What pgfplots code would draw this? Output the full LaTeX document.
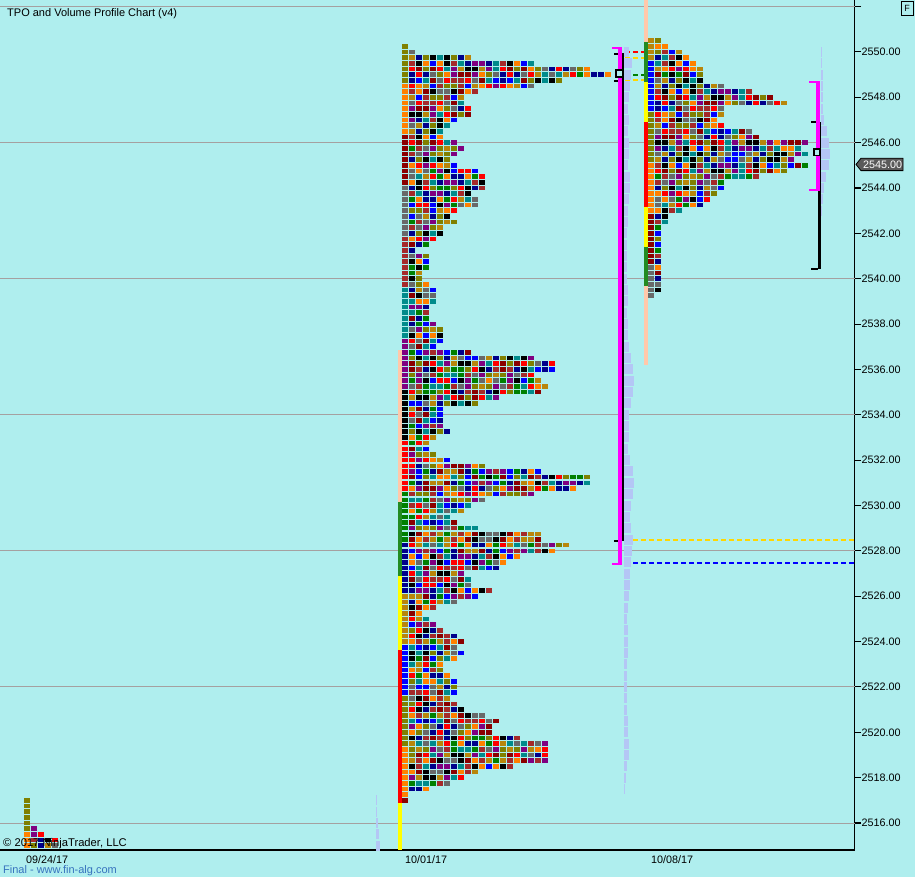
\documentclass[border=0pt]{standalone}
\usepackage{pgfplots}
\pgfplotsset{compat=1.18}
\usepackage{pgfplotstable}
\usepackage{fontspec}
\setmainfont{Liberation Sans}

\definecolor{bgcyan}{RGB}{175,238,238}
\definecolor{gridgrey}{RGB}{165,160,160}
\definecolor{peach}{RGB}{255,200,170}
\definecolor{ibgreen}{RGB}{34,139,34}
\definecolor{volblue}{RGB}{180,198,245}
\definecolor{taggrey}{RGB}{90,90,90}
\definecolor{gold}{RGB}{255,215,0}
\definecolor{dkgreen}{RGB}{0,128,0}
\definecolor{linkblue}{RGB}{55,115,190}
\definecolor{vamag}{RGB}{255,0,255}
\definecolor{ibyellow}{RGB}{255,255,0}
\definecolor{ibred}{RGB}{255,0,0}
\definecolor{pblue}{RGB}{0,0,255}
% tpo period colours
\definecolor{tpo0}{RGB}{0,0,0}
\definecolor{tpo1}{RGB}{0,0,255}
\definecolor{tpo2}{RGB}{165,42,42}
\definecolor{tpo3}{RGB}{0,128,0}
\definecolor{tpo4}{RGB}{255,128,0}
\definecolor{tpo5}{RGB}{128,0,128}
\definecolor{tpo6}{RGB}{184,134,11}
\definecolor{tpo7}{RGB}{105,105,105}
\definecolor{tpo8}{RGB}{255,0,0}
\definecolor{tpo9}{RGB}{128,128,0}
\definecolor{tpo10}{RGB}{0,139,139}
\definecolor{tpo11}{RGB}{0,0,139}
\definecolor{tpo12}{RGB}{139,0,0}

\newcommand\tickfont{\fontsize{10.8}{12}\selectfont}

% one row of tpo squares, n of them, 7pt apart
\pgfdeclareplotmark{tpo}{%
  \pgfmathtruncatemacro\tpoN{\tpon}%
  \pgfmathtruncatemacro\tpor{round((\tpop-2500)*4)+\tpos}%
  \foreach \k in {1,...,\tpoN}{%
    \ifnum\k=1 %
      \pgfmathtruncatemacro\tpoc{mod(floor(\tpor/9)*5+\tpos,13)}%
    \else
      \pgfmathtruncatemacro\tpoc{mod(5*mod(\tpor,17)^2+3*mod(\k,19)^2+7*mod(\tpor,17)*mod(\k,19)+\tpor+2*\k,13)}%
    \fi
    \pgfmathsetmacro\tpox{(\k-1)*7}%
    \begin{pgfscope}%
      \pgfsetfillcolor{tpo\tpoc}%
      \pgfpathrectangle{\pgfpoint{\tpox pt}{-2.3pt}}{\pgfpoint{6pt}{4.6pt}}%
      \pgfusepath{fill}%
    \end{pgfscope}%
  }%
}
% volume profile bar
\pgfdeclareplotmark{vol}{%
  \pgfsetfillcolor{volblue}%
  \pgfpathrectangle{\pgfpoint{0pt}{-5pt}}{\pgfpoint{\volw pt}{10pt}}%
  \pgfusepath{fill}%
}

\pgfplotsset{
  tporow/.style={only marks, scatter, point meta=y, mark=tpo,
    scatter/@pre marker code/.code={\pgfscope},
    scatter/@post marker code/.code={\endpgfscope},
    visualization depends on={\thisrow{n}\as\tpon},
    visualization depends on={\thisrow{p}\as\tpop}},
  volrow/.style={only marks, scatter, point meta=y, mark=vol,
    scatter/@pre marker code/.code={\pgfscope},
    scatter/@post marker code/.code={\endpgfscope},
    visualization depends on={\thisrow{w}\as\volw}},
  dashln/.style={line width=2pt, dash pattern=on 5pt off 3pt},
}

% 09/24 profile
\pgfplotstableread{
p n
2517.00 1
2516.75 1
2516.50 1
2516.25 1
2516.00 1
2515.75 2
2515.50 3
2515.25 5
2515.00 5
}\profA

% 10/01 profile
\pgfplotstableread{
p n
2550.25 1
2550.00 2
2549.75 10
2549.50 19
2549.25 27
2549.00 30
2548.75 23
2548.50 19
2548.25 11
2548.00 9
2547.75 9
2547.50 10
2547.25 10
2547.00 8
2546.75 7
2546.50 6
2546.25 6
2546.00 8
2545.75 9
2545.50 8
2545.25 7
2545.00 8
2544.75 11
2544.50 12
2544.25 12
2544.00 12
2543.75 10
2543.50 11
2543.25 11
2543.00 8
2542.75 7
2542.50 8
2542.25 6
2542.00 6
2541.75 5
2541.50 4
2541.25 2
2541.00 4
2540.75 4
2540.50 4
2540.25 3
2540.00 3
2539.75 4
2539.50 5
2539.25 5
2539.00 5
2538.75 4
2538.50 4
2538.25 4
2538.00 5
2537.75 6
2537.50 6
2537.25 6
2537.00 5
2536.75 10
2536.50 19
2536.25 22
2536.00 22
2535.75 19
2535.50 20
2535.25 21
2535.00 20
2534.75 14
2534.50 11
2534.25 6
2534.00 6
2533.75 6
2533.50 6
2533.25 7
2533.00 5
2532.75 4
2532.50 4
2532.25 5
2532.00 7
2531.75 12
2531.50 20
2531.25 27
2531.00 27
2530.75 25
2530.50 19
2530.25 12
2530.00 10
2529.75 9
2529.50 7
2529.25 8
2529.00 11
2528.75 20
2528.50 20
2528.25 24
2528.00 22
2527.75 17
2527.50 15
2527.25 14
2527.00 9
2526.75 10
2526.50 10
2526.25 13
2526.00 11
2525.75 8
2525.50 5
2525.25 3
2525.00 4
2524.75 5
2524.50 6
2524.25 8
2524.00 9
2523.75 8
2523.50 9
2523.25 8
2523.00 6
2522.75 6
2522.50 7
2522.25 8
2522.00 8
2521.75 8
2521.50 7
2521.25 8
2521.00 9
2520.75 12
2520.50 14
2520.25 13
2520.00 13
2519.75 17
2519.50 21
2519.25 21
2519.00 21
2518.75 21
2518.50 16
2518.25 11
2518.00 9
2517.75 7
2517.50 4
2517.25 1
2517.00 1
}\profB

% 10/08 profile
\pgfplotstableread{
p n
2550.50 2
2550.25 3
2550.00 5
2549.75 6
2549.50 7
2549.25 8
2549.00 8
2548.75 8
2548.50 11
2548.25 15
2548.00 18
2547.75 20
2547.50 11
2547.25 11
2547.00 10
2546.75 11
2546.50 15
2546.25 16
2546.00 23
2545.75 22
2545.50 23
2545.25 21
2545.00 23
2544.75 20
2544.50 16
2544.25 11
2544.00 11
2543.75 10
2543.50 9
2543.25 8
2543.00 5
2542.75 3
2542.50 3
2542.25 2
2542.00 2
2541.75 2
2541.50 2
2541.25 2
2541.00 2
2540.75 2
2540.50 2
2540.25 2
2540.00 2
2539.75 2
2539.50 2
2539.25 1
}\profC

% volume profiles (bar length in px)
\pgfplotstableread{
p w
2517.0 1
2516.5 1
2516.0 2
2515.5 3
2515.0 4
}\volA

\pgfplotstableread{
p w
2550.0 5
2549.5 8
2549.0 7
2548.5 6
2548.0 5
2547.5 4
2547.0 5
2546.5 4
2546.0 5
2545.5 5
2545.0 4
2544.5 6
2544.0 6
2543.5 5
2543.0 4
2542.5 4
2542.0 3
2541.5 3
2541.0 3
2540.5 3
2540.0 3
2539.5 4
2539.0 4
2538.5 3
2538.0 4
2537.5 4
2537.0 5
2536.5 7
2536.0 9
2535.5 10
2535.0 9
2534.5 7
2534.0 5
2533.5 5
2533.0 5
2532.5 4
2532.0 6
2531.5 9
2531.0 10
2530.5 9
2530.0 7
2529.5 6
2529.0 7
2528.5 9
2528.0 8
2527.5 7
2527.0 6
2526.5 6
2526.0 5
2525.5 4
2525.0 3
2524.5 4
2524.0 4
2523.5 4
2523.0 3
2522.5 3
2522.0 3
2521.5 3
2521.0 3
2520.5 4
2520.0 4
2519.5 5
2519.0 5
2518.5 3
2518.0 2
2517.5 1
}\volB

\pgfplotstableread{
p w
2550.0 1
2549.5 1
2549.0 2
2548.5 2
2548.0 2
2547.5 2
2547.0 3
2546.5 6
2546.0 8
2545.5 9
2545.0 8
2544.5 5
2544.0 3
2543.5 2
2543.0 1
}\volC

\begin{document}
\begin{tikzpicture}
\path[use as bounding box, fill=bgcyan] (0pt,0pt) rectangle (915pt,877pt);
\begin{axis}[
  at={(0pt,27pt)}, anchor=south west,
  scale only axis, width=854.5pt, height=850pt,
  xmin=0, xmax=854.5, ymin=2514.81, ymax=2552.29,
  clip=false,
  axis x line*=bottom, axis y line*=right,
  axis line style={black, line width=1.2pt},
  tick align=outside, major tick length=6.5pt,
  ytick={2516,2518,...,2550},
  ytick style={black, line width=1.1pt},
  scaled y ticks=false,
  yticklabel style={font=\tickfont, inner sep=0.5pt,
    /pgf/number format/.cd, fixed, fixed zerofill, precision=2,
    1000 sep={}, assume math mode=true},
  extra y ticks={2516,2522,2528,2534,2540,2546,2552},
  extra y tick labels={},
  extra y tick style={grid=major, major grid style={draw=gridgrey, line width=0.9pt}},
  xtick={26,405,651},
  xticklabels={09/24/17,10/01/17,10/08/17},
  xtick style={draw=none},
  xticklabel style={font=\tickfont, anchor=north west, inner sep=0pt, yshift=1.5pt},
]
% volume profiles
\addplot[volrow] table[x expr=376, y=p] {\volA};
\addplot[volrow] table[x expr=624, y=p] {\volB};
\addplot[volrow] table[x expr=821, y=p] {\volC};

% period strips
\addplot[draw=peach, line width=4pt] coordinates {(646,2552.29) (646,2536.2)};
\addplot[draw=ibgreen, line width=4pt] coordinates {(646,2550.44) (646,2548.69)};
\addplot[draw=ibyellow, line width=4pt] coordinates {(646,2548.69) (646,2546.93)};
\addplot[draw=ibred, line width=4pt] coordinates {(646,2546.93) (646,2543.18)};
\addplot[draw=ibyellow, line width=4pt] coordinates {(646,2543.18) (646,2541.42)};
\addplot[draw=ibgreen, line width=4pt] coordinates {(646,2541.42) (646,2539.68)};

\addplot[draw=peach, line width=4pt] coordinates {(400,2536.86) (400,2530.17)};
\addplot[draw=ibgreen, line width=4pt] coordinates {(400,2530.17) (400,2526.91)};
\addplot[draw=ibyellow, line width=4pt] coordinates {(400,2526.91) (400,2523.63)};
\addplot[draw=ibred, line width=4pt] coordinates {(400,2523.63) (400,2516.90)};
\addplot[draw=ibyellow, line width=4pt] coordinates {(400,2516.90) (400,2514.81)};

% tpo profiles
\addplot[tporow, visualization depends on={value 0\as\tpos}] table[x expr=24, y=p] {\profA};
\addplot[tporow, visualization depends on={value 3\as\tpos}] table[x expr=402, y=p] {\profB};
\addplot[tporow, visualization depends on={value 8\as\tpos}] table[x expr=648, y=p] {\profC};

% value area / range markers, 10/01
\addplot[black, line width=2pt] coordinates {(623,2549.96) (623,2528.44)};
\addplot[black, line width=2pt] coordinates {(614,2549.9) (619,2549.9)};
\addplot[black, line width=2pt] coordinates {(614,2548.7) (619,2548.7)};
\addplot[black, line width=2pt] coordinates {(614,2528.44) (619,2528.44)};
\addplot[vamag, line width=4pt] coordinates {(620,2550.18) (620,2527.42)};
\addplot[vamag, line width=2pt] coordinates {(612,2550.18) (622,2550.18)};
\addplot[vamag, line width=2pt] coordinates {(612,2527.42) (622,2527.42)};

\addplot[ibred, dashln] coordinates {(625,2550.0) (644,2550.0)};
\addplot[gold, dashln] coordinates {(625,2549.74) (644,2549.74)};
\addplot[dkgreen, dashln] coordinates {(625,2549.0) (644,2549.0)};
\addplot[gold, dashln] coordinates {(625,2548.77) (644,2548.77)};
\addplot[gold, dashln] coordinates {(625,2528.48) (854,2528.48)};
\addplot[pblue, dashln] coordinates {(625,2527.48) (854,2527.48)};

% 10/08 markers
\addplot[black, line width=3pt] coordinates {(819.5,2546.91) (819.5,2540.45)};
\addplot[black, line width=2pt] coordinates {(811,2546.91) (818,2546.91)};
\addplot[black, line width=2pt] coordinates {(811,2540.45) (818,2540.45)};
\addplot[vamag, line width=4pt] coordinates {(818,2548.68) (818,2543.92)};
\addplot[vamag, line width=2pt] coordinates {(809,2548.68) (820,2548.68)};
\addplot[vamag, line width=2pt] coordinates {(809,2543.92) (820,2543.92)};

\addplot[only marks, mark=square*, mark size=3.2pt,
  mark options={draw=black, fill=bgcyan, line width=1.8pt}]
  coordinates {(619.5,2549.05) (816.8,2545.57)};

% last price tag
\draw[fill=taggrey, draw=black, line width=0.8pt] ([xshift=1.5pt]axis cs:854.5,2545.04)
  -- ++(5pt,6.2pt) -- ++(42pt,0pt) -- ++(0pt,-12.4pt) -- ++(-42pt,0pt) -- cycle;
\node[anchor=west, text=white, inner sep=0pt, font=\tickfont]
  at ([xshift=8.5pt]axis cs:854.5,2545.04) {2545.00};
\end{axis}

\node[anchor=base west, inner sep=0pt, font=\fontsize{11}{13}\selectfont]
  at (7pt,860.3pt) {TPO and Volume Profile Chart (v4)};
\node[anchor=base west, inner sep=0pt, font=\fontsize{11.2}{13}\selectfont]
  at (3pt,30pt) {© 2017 NinjaTrader, LLC};
\node[anchor=base west, inner sep=0pt, text=linkblue, font=\fontsize{11}{13}\selectfont]
  at (3pt,3.5pt) {Final - www.fin-alg.com};
\draw[black, line width=0.8pt] (901pt,862pt) rectangle (913pt,876pt);
\node[inner sep=0pt, font=\fontsize{9}{10}\selectfont] at (907pt,869pt) {F};
\end{tikzpicture}
\end{document}
